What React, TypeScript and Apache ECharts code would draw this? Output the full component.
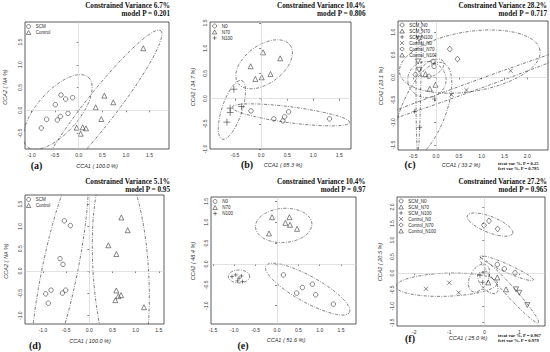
import React, { useEffect, useRef } from "react";
import * as echarts from "echarts";

type Pt = [number, number];

// ---------- Panel (a) ----------
const aSCM: Pt[] = [[-0.375, 0.336], [-0.276, 0.248], [-0.128, 0.278], [-0.495, 0.124], [-0.227, -0.067], [-0.389, -0.133], [-0.453, -0.213], [-0.679, -0.198], [-0.792, -0.389]];
const aControl: Pt[] = [[1.369, 1.363], [0.543, 0.322], [0.733, 0.176], [0.36, 0.066], [0.479, -0.191], [-0.043, -0.382], [0.084, -0.374], [0.155, -0.396], [0.042, -0.514]];
// ellipse: [cx, cy, ux, uy, vx, vy]
const aEllipses: number[][] = [[-0.443, -0.037, 0.647, 0.762, 0.334, -0.305], [0.42, 0.0, 1.317, 1.749, 0.26, -0.211]];

// ---------- Panel (b) ----------
const bN0: Pt[] = [[-0.194, -0.244], [0.244, -0.402], [0.417, -0.442], [0.45, -0.362], [0.527, -0.263], [1.312, -0.402]];
const bN70: Pt[] = [[0.038, 0.918], [0.366, 0.799], [-0.2, 0.641], [0.18, 0.489], [0.012, 0.423], [-0.11, 0.39]];
const bN100: Pt[] = [[-0.522, 0.186], [-0.374, -0.158], [-0.593, -0.19], [-0.593, -0.277], [-0.656, -0.467]];
const bEllipses: number[][] = [[0.058, 0.681, 0.496, 0.382, 0.22, -0.301], [-0.56, -0.224, 0.186, 0.581, 0.183, -0.062], [0.572, -0.323, 1.127, -0.152, 0.02, 0.157]];

// ---------- Panel (c) ----------
const cSCM_N0: Pt[] = [[-0.066, 0.354], [-0.044, 0.243], [-0.16, 0.022]];
const cSCM_N70: Pt[] = [[-0.233, 0.073], [-0.013, -0.164], [-0.138, -0.252]];
const cSCM_N100: Pt[] = [[-0.029, -0.48], [-0.468, -0.752], [-0.358, -1.106]];
const cControl_N0: Pt[] = [[0.338, -0.385], [0.668, -0.281], [1.635, 0.146]];
const cControl_N70: Pt[] = [[0.301, 0.626], [0.47, 0.405], [-0.453, 0.058]];
const cControl_N100: Pt[] = [[-0.373, 0.847], [-0.396, 0.354], [-0.374, 0.168]];
const cEllipses: number[][] = [
  [0.88, -0.17, 3.0, 1.1, 0.034, -0.094],
  [-0.381, 0.457, 0.02, 2.1, 0.055, 0],
  [-0.29, -0.78, 0.45, 1.1, 0.447, -0.186],
  [0.74, 0.35, 1.54, 0.25, -0.105, 0.655],
  [-0.09, 0.2, 0.25, 0.15, -0.08, 0.14],
  [-0.2, -0.05, 0.42, 0, 0, 0.4],
];

// ---------- Panel (d) ----------
const dSCM: Pt[] = [[-0.539, 1.126], [-0.41, 1.021], [-0.633, 0.278], [-0.568, 0.15], [-0.827, -0.428], [-0.942, -0.511], [-0.582, -0.495], [-0.51, -0.428], [-0.885, -0.721]];
const dControl: Pt[] = [[0.692, 1.201], [0.829, 0.916], [0.411, 0.578], [0.584, 0.383], [0.584, -0.435], [0.627, -0.563], [0.685, -0.541], [0.562, -0.653], [1.181, -0.811]];
const dEllipses: number[][] = [[-0.64, 0.0, 0.48, 2.5, 0.39, 0], [0.68, 0.0, -0.14, 2.5, 0.6, 0]];

// ---------- Panel (e) ----------
const eN0: Pt[] = [[0.149, -0.263], [0.594, -0.565], [0.828, -0.485], [0.461, -0.7], [0.906, -0.74], [1.32, -0.963]];
const eN70: Pt[] = [[-0.116, 1.122], [0.29, 1.122], [0.196, 0.986], [0.305, 0.939], [0.469, 0.843], [-0.187, 0.732]];
const eN100: Pt[] = [[-1.054, -0.303], [-0.967, -0.263], [-0.89, -0.341], [-0.834, -0.286], [-0.927, -0.406], [-0.81, -0.422]];
const eEllipses: number[][] = [[0.157, 0.924, 0.66, 0.03, 0, 0.41], [0.719, -0.604, 0.977, -0.559, 0.149, 0.27], [-0.89, -0.3, 0.25, 0, 0, 0.155]];

// ---------- Panel (f) ----------
const fSCM_N0: Pt[] = [[0.372, 0.262], [0.572, 0.131], [0.877, 0.01]];
const fSCM_N70: Pt[] = [[0.114, -0.28], [0.372, -0.13], [0.62, -0.49]];
const fSCM_N100: Pt[] = [[-0.123, -0.06], [0.0, 0.04], [-0.046, -0.28]];
const fControl_N0: Pt[] = [[-1.666, -0.473], [-1.0, -0.29], [-0.73, -0.59]];
const fControl_N70: Pt[] = [[-0.01, 1.45], [0.134, 1.581], [0.381, 1.339]];
const fControl_N100: Pt[] = [[0.906, -0.49], [1.0, -0.595], [1.229, -0.967]];
const fEllipses: number[][] = [
  [0.163, 1.47, 0.647, -0.27, 0.084, 0.225],
  [0.64, 0.15, 0.76, -0.36, 0.047, 0.11],
  [0.71, -0.52, 0.833, -0.98, 0.106, 0.101],
  [-1.075, -0.35, 1.45, 0.05, 0, 0.35],
  [-0.15, -0.15, 0.12, 0.42, 0.28, 0],
  [0.1, -0.3, 0.25, -0.3, 0.15, 0.12],
];

// ---------- Tick labels ----------
const aXTicks = [-1, -0.5, 0, 0.5, 1, 1.5];
const aYTicks = [-0.5, 0, 0.5, 1, 1.5];
const bXTicks = [-0.5, 0, 0.5, 1, 1.5];
const bYTicks = [-1, -0.5, 0, 0.5, 1, 1.5];
const cXTicks = [-0.5, 0, 0.5, 1, 1.5, 2];
const cYTicks = [-1.5, -1, -0.5, 0, 0.5, 1];
const dXTicks = [-1, -0.5, 0, 0.5, 1, 1.5];
const dYTicks = [-1, -0.5, 0, 0.5, 1, 1.5];
const eXTicks = [-1.5, -1, -0.5, 0, 0.5, 1, 1.5];
const eYTicks = [-1, -0.5, 0, 0.5, 1, 1.5];
const fXTicks = [-2, -1, 0, 1];
const fYTicks = [-1.5, -1, -0.5, 0, 0.5, 1, 1.5, 2];

// ---------- Texts ----------
const titles = [
  ["Constrained Variance 6.7%", "model P = 0.201"],
  ["Constrained Variance 10.4%", "model P = 0.806"],
  ["Constrained Variance 28.2%", "model P = 0.717"],
  ["Constrained Variance 5.1%", "model P = 0.95"],
  ["Constrained Variance 10.4%", "model P = 0.97"],
  ["Constrained Variance 27.2%", "model P = 0.965"],
];
const xNames = ["CCA1 ( 100.0 %)", "CCA1 ( 65.3 %)", "CCA1 ( 33.2 %)", "CCA1 ( 100.0 %)", "CCA1 ( 51.6 %)", "CCA1 ( 25.0 %)"];
const yNames = ["CCA2 ( NA %)", "CCA2 ( 34.7 %)", "CCA2 ( 23.1 %)", "CCA2 ( NA %)", "CCA2 ( 48.4 %)", "CCA2 ( 20.5 %)"];
const panelLabels = ["(a)", "(b)", "(c)", "(d)", "(e)", "(f)"];
const cNotes = ["treat var %, P = 0.25", "fert var %, P = 0.795"];
const fNotes = ["treat var %, P = 0.967", "fert var %, P = 0.979"];

// ---------- Layout (positions only) ----------
const layout = [
  { grid: { left: 25, top: 22, width: 144, height: 127 }, x: [-1.137, 1.913], y: [-0.85, 1.94], title: [170, 6], xName: [97, 166], yName: [5, 87], label: [36.5, 165], legend: [26, 24] },
  { grid: { left: 210, top: 22, width: 141, height: 127 }, x: [-0.98, 1.724], y: [-1.0, 1.52], title: [365.5, 6], xName: [283, 164.5], yName: [193, 87], label: [247, 164.5], legend: [212, 23.5] },
  { grid: { left: 398, top: 21, width: 150, height: 129 }, x: [-0.835, 2.455], y: [-1.61, 1.25], title: [547, 6], xName: [461, 164.5], yName: [381, 86], label: [410, 164.5], legend: [399.5, 22.5] },
  { grid: { left: 25, top: 195, width: 139, height: 129 }, x: [-1.389, 1.613], y: [-1.187, 1.705], title: [170, 181.7], xName: [90, 340.5], yName: [6, 261], label: [35, 345.5], legend: [26, 197] },
  { grid: { left: 211, top: 197, width: 145, height: 127 }, x: [-1.546, 1.85], y: [-1.44, 1.606], title: [365.5, 181.7], xName: [286, 340], yName: [193, 261], label: [243, 345.5], legend: [212.5, 199] },
  { grid: { left: 397, top: 197, width: 148, height: 129 }, x: [-2.494, 1.734], y: [-1.6, 2.305], title: [547, 181.7], xName: [468, 337.5], yName: [380, 262], label: [410, 338.5], legend: [398.5, 198.5] },
];

const ticks = [
  [aXTicks, aYTicks], [bXTicks, bYTicks], [cXTicks, cYTicks],
  [dXTicks, dYTicks], [eXTicks, eYTicks], [fXTicks, fYTicks],
];

const SYM: Record<string, any> = {
  circle: { symbol: "circle", symbolSize: 4.5 },
  tri: { symbol: "triangle", symbolSize: 5 },
  plus: { symbol: "path://M5,0L5,10M0,5L10,5", symbolSize: 5 },
  bigplus: { symbol: "path://M5,0L5,10M0,5L10,5", symbolSize: 7 },
  smallplus: { symbol: "path://M5,0L5,10M0,5L10,5", symbolSize: 4 },
  cross: { symbol: "path://M0,0L10,10M10,0L0,10", symbolSize: 4.2 },
  diamond: { symbol: "diamond", symbolSize: [5, 6] },
  invtri: { symbol: "triangle", symbolSize: 5, symbolRotate: 180 },
};

const panelSeries: [string, Pt[], string][][] = [
  [["SCM", aSCM, "circle"], ["Control", aControl, "tri"]],
  [["N0", bN0, "circle"], ["N70", bN70, "tri"], ["N100", bN100, "bigplus"]],
  [["SCM_N0", cSCM_N0, "circle"], ["SCM_N70", cSCM_N70, "tri"], ["SCM_N100", cSCM_N100, "plus"], ["Control_N0", cControl_N0, "cross"], ["Control_N70", cControl_N70, "diamond"], ["Control_N100", cControl_N100, "invtri"]],
  [["SCM", dSCM, "circle"], ["Control", dControl, "tri"]],
  [["N0", eN0, "circle"], ["N70", eN70, "tri"], ["N100", eN100, "smallplus"]],
  [["SCM_N0", fSCM_N0, "circle"], ["SCM_N70", fSCM_N70, "tri"], ["SCM_N100", fSCM_N100, "plus"], ["Control_N0", fControl_N0, "cross"], ["Control_N70", fControl_N70, "diamond"], ["Control_N100", fControl_N100, "invtri"]],
];
const panelEllipses = [aEllipses, bEllipses, cEllipses, dEllipses, eEllipses, fEllipses];

function ellipsePts(e: number[]): Pt[] {
  const [cx, cy, ux, uy, vx, vy] = e;
  const pts: Pt[] = [];
  for (let i = 0; i <= 160; i++) {
    const t = (i / 160) * Math.PI * 2;
    pts.push([cx + ux * Math.cos(t) + vx * Math.sin(t), cy + uy * Math.cos(t) + vy * Math.sin(t)]);
  }
  return pts;
}

const INK = "#2a2a2a";
const SANS = "Liberation Sans, Arial, sans-serif";
const SERIF = "Liberation Serif, Times New Roman, serif";

function buildOption() {
  const grid: any[] = [];
  const xAxis: any[] = [];
  const yAxis: any[] = [];
  const series: any[] = [];
  const legend: any[] = [];
  const graphic: any[] = [];

  layout.forEach((L, i) => {
    grid.push({ ...L.grid, show: true, borderColor: "#333", borderWidth: 0.8, backgroundColor: "transparent", containLabel: false });
    const fmt = i === 5 ? (v: number) => String(Math.round(v)) : (v: number) => v.toFixed(1);
    const [xt, yt] = ticks[i];
    xAxis.push({
      gridIndex: i, type: "value", min: L.x[0], max: L.x[1],
      axisLine: { show: false }, splitLine: { show: false },
      axisTick: { show: true, length: 2, customValues: xt, lineStyle: { color: "#333", width: 0.6 } },
      axisLabel: { customValues: xt, formatter: fmt, fontSize: 5, color: "#333", margin: 3, fontFamily: SANS, hideOverlap: false },
    });
    yAxis.push({
      gridIndex: i, type: "value", min: L.y[0], max: L.y[1],
      axisLine: { show: false }, splitLine: { show: false },
      axisTick: { show: true, length: 2, customValues: yt, lineStyle: { color: "#333", width: 0.6 } },
      axisLabel: { customValues: yt, formatter: (v: number) => v.toFixed(1), fontSize: 5, color: "#333", margin: 3, rotate: 90, fontFamily: SANS, hideOverlap: false },
    });

    panelEllipses[i].forEach((e, k) => {
      series.push({
        type: "line", name: `ell${i}_${k}`, xAxisIndex: i, yAxisIndex: i, data: ellipsePts(e),
        showSymbol: false, symbol: "none", silent: true, clip: true, z: 2,
        lineStyle: { color: "#444", width: 0.7, type: [3, 1.4, 0.8, 1.4] },
      });
    });

    panelSeries[i].forEach(([name, data, s], k) => {
      const sd = SYM[s];
      const ser: any = {
        type: "scatter", name, xAxisIndex: i, yAxisIndex: i, data,
        symbol: sd.symbol, symbolSize: sd.symbolSize, symbolRotate: sd.symbolRotate || 0,
        itemStyle: { color: "transparent", borderColor: INK, borderWidth: 0.7 },
        z: 3,
      };
      if (k === 0) {
        ser.markLine = {
          silent: true, symbol: ["none", "none"], label: { show: false },
          lineStyle: { color: "#cfcfcf", width: 0.6, type: "solid" },
          data: [{ xAxis: 0 }, { yAxis: 0 }],
        };
      }
      series.push(ser);
    });

    legend.push({
      orient: "vertical", left: L.legend[0], top: L.legend[1], padding: 0,
      itemWidth: 4.5, itemHeight: 4, itemGap: 1, selectedMode: false,
      itemStyle: { color: "transparent", borderColor: INK, borderWidth: 0.7 },
      textStyle: { fontSize: 4.5, lineHeight: 4.5, color: INK, fontFamily: SANS },
      data: panelSeries[i].map((p) => p[0]),
    });

    graphic.push(
      { type: "text", x: L.title[0], y: L.title[1], style: { text: titles[i][0], font: `bold 7.2px ${SERIF}`, fill: "#111", align: "right", verticalAlign: "middle" } },
      { type: "text", x: L.title[0], y: L.title[1] + 8.4, style: { text: titles[i][1], font: `bold 7.2px ${SERIF}`, fill: "#111", align: "right", verticalAlign: "middle" } },
      { type: "text", x: L.xName[0], y: L.xName[1], style: { text: xNames[i], font: `italic 5.5px ${SANS}`, fill: INK, align: "center", verticalAlign: "middle" } },
      { type: "text", x: L.yName[0], y: L.yName[1], rotation: Math.PI / 2, style: { text: yNames[i], font: `italic 5.5px ${SANS}`, fill: INK, align: "center", verticalAlign: "middle" } },
      { type: "text", x: L.label[0], y: L.label[1], style: { text: panelLabels[i], font: `bold 10px ${SERIF}`, fill: "#111", align: "center", verticalAlign: "middle" } },
    );
  });

  [[cNotes, 498, 163.5], [fNotes, 498, 335.5]].forEach(([notes, x, y]: any) => {
    notes.forEach((t: string, j: number) => {
      graphic.push({ type: "text", x, y: y + j * 5, style: { text: t, font: `bold 4.6px ${SERIF}`, fill: "#111", align: "left", verticalAlign: "middle" } });
    });
  });

  return { animation: false, backgroundColor: "#ffffff", grid, xAxis, yAxis, series, legend, graphic };
}

export default function App() {
  const ref = useRef<HTMLDivElement>(null);
  useEffect(() => {
    document.body.style.margin = "0";
    if (!ref.current) return;
    const chart = echarts.init(ref.current, null, { renderer: "svg" });
    chart.setOption(buildOption() as any);
    return () => chart.dispose();
  }, []);
  return <div ref={ref} style={{ width: 550, height: 352 }} />;
}
